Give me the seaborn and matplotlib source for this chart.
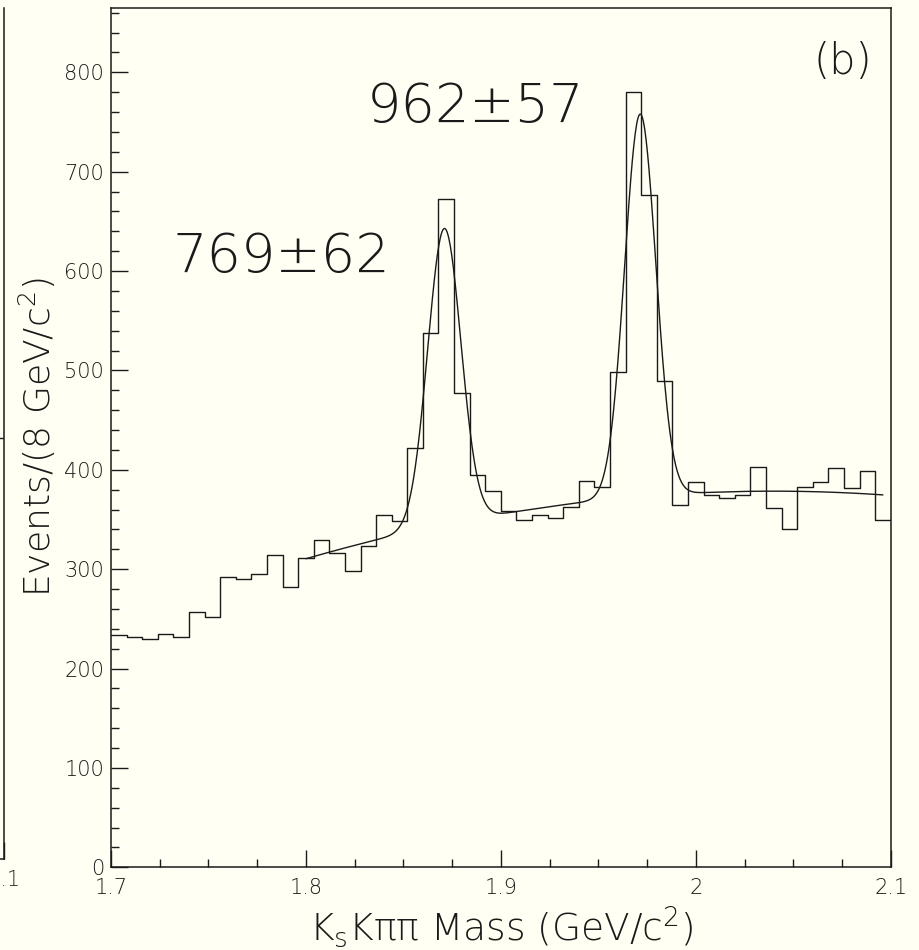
import numpy as np
import pandas as pd
import matplotlib
matplotlib.use("Agg")
import matplotlib.pyplot as plt
from matplotlib.ticker import MultipleLocator
import seaborn as sns

# KsKpipi mass histogram, 50 bins of 8 MeV from 1.70 to 2.10 GeV
mass_lo = 1.70
mass_hi = 2.10
events = [234, 232, 230, 235, 232, 257, 252, 292, 290, 295,
          314, 282, 311, 329, 316, 298, 323, 355, 348, 422,
          538, 672, 477, 395, 379, 359, 349, 355, 351, 363,
          389, 383, 498, 780, 677, 489, 365, 388, 375, 372,
          375, 403, 362, 340, 383, 388, 402, 382, 399, 349]

# fit: two gaussians on a quadratic background (t = m - 1.8)
fit_range = [1.800, 2.096]
peak_means = [1.8710, 1.9715]
peak_sigmas = [0.0085, 0.0080]
peak_heights = [298, 385]
bkg_coeffs = [310.5, 567.7, -1184.7]
yield_labels = ["769\u00b162", "962\u00b157"]

# neighbouring panel (a), only its last bin shows at the left edge
panel_a_last = [428]

xtick_vals = [1.7, 1.8, 1.9, 2.0, 2.1]
xtick_text = ["1.7", "1.8", "1.9", "2", "2.1"]

sns.set_style("ticks")
bg = "#fffff3"
ink = "#1a1a1a"
plt.rcParams["font.family"] = ["DejaVu Sans"]
plt.rcParams["font.weight"] = 200
plt.rcParams["axes.labelweight"] = 200
plt.rcParams["mathtext.default"] = "regular"

edges = np.linspace(mass_lo, mass_hi, len(events) + 1)
hist_df = pd.DataFrame({"mass": (edges[:-1] + edges[1:]) / 2, "events": events})

xfit = np.linspace(fit_range[0], fit_range[1], 800)
yfit = np.polyval(bkg_coeffs[::-1], xfit - 1.8)
for m, s, h in zip(peak_means, peak_sigmas, peak_heights):
    yfit = yfit + h * np.exp(-0.5 * ((xfit - m) / s) ** 2)
fit_df = pd.DataFrame({"mass": xfit, "fit": yfit})

fig = plt.figure(figsize=(9.19, 9.5), dpi=100, facecolor=bg)

# cut-off panel (a)
ax_a = fig.add_axes([4 / 919 - 0.8, 1 - 859 / 950, 0.8, 851 / 950], facecolor=bg)
last_edges = edges[-2:].tolist()
sns.histplot(x=[(last_edges[0] + last_edges[1]) / 2], weights=panel_a_last, bins=last_edges,
             element="step", fill=False, color=ink, linewidth=1.0, ax=ax_a)
ax_a.set_xlim(mass_lo, mass_hi)
ax_a.set_ylim(0, 865)
ax_a.set_xticks([2.1])
ax_a.set_xticklabels(["2.1"], fontsize=15, fontweight=200)
ax_a.set_yticks([])
ax_a.tick_params(axis="x", direction="in", length=12, width=1, pad=8, color=ink)
ax_a.set_xlabel("")
ax_a.set_ylabel("")
for side in ["left", "top"]:
    ax_a.spines[side].set_visible(False)
for side in ["right", "bottom"]:
    ax_a.spines[side].set_linewidth(1.1)
    ax_a.spines[side].set_color(ink)

# panel (b)
ax = fig.add_axes([111 / 919, 1 - 867.3 / 950, 779.7 / 919, 859.6 / 950], facecolor=bg)
sns.histplot(data=hist_df, x="mass", weights="events", bins=edges.tolist(), element="step",
             fill=False, color=ink, linewidth=1.0, ax=ax)
sns.lineplot(data=fit_df, x="mass", y="fit", color=ink, linewidth=1.0, estimator=None, ax=ax)

ax.set_xlim(mass_lo, mass_hi)
ax.set_ylim(0, 865)
ax.set_xticks(xtick_vals)
ax.set_xticklabels(xtick_text)
ax.xaxis.set_minor_locator(MultipleLocator(0.025))
ax.yaxis.set_major_locator(MultipleLocator(100))
ax.yaxis.set_minor_locator(MultipleLocator(20))
ax.tick_params(which="both", direction="in", top=False, right=False, width=1, color=ink,
               labelsize=15, labelcolor=ink)
ax.tick_params(which="major", length=12)
ax.tick_params(which="minor", length=6)
ax.tick_params(axis="x", pad=8)
ax.tick_params(axis="y", pad=5)
for side in ax.spines.values():
    side.set_linewidth(1.1)
    side.set_color(ink)

ax.set_xlabel("K$_{s}$K\u03c0\u03c0 Mass (GeV/c$^{2}$)", fontsize=27, color=ink, fontweight=200)
ax.set_ylabel("Events/(8 GeV/c$^{2}$)", fontsize=26, color=ink, fontweight=200)
ax.xaxis.set_label_coords(0.5, -0.043)
ax.yaxis.set_label_coords(-0.068, 0.5)

ax.text(1.7315, 599, yield_labels[0], fontsize=39, color=ink, ha="left", va="baseline")
ax.text(1.8314, 750, yield_labels[1], fontsize=39, color=ink, ha="left", va="baseline")
ax.text(2.0755, 811, "(b)", fontsize=30, color=ink, ha="center", va="center")

fig.savefig("out.png", dpi=100, facecolor=bg)
